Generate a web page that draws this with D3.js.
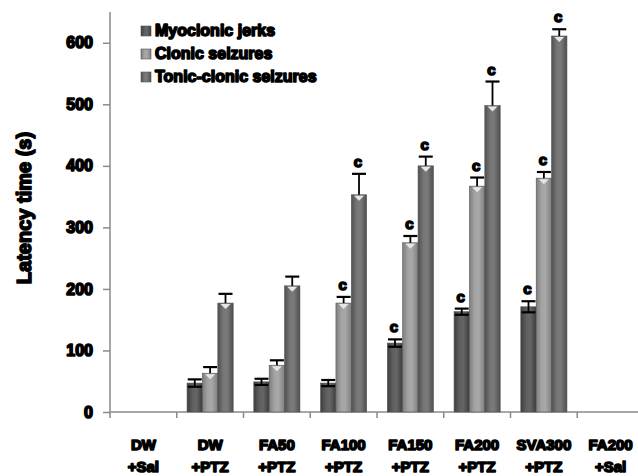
<!DOCTYPE html>
<html>
<head>
<meta charset="utf-8">
<script src="https://cdn.jsdelivr.net/npm/d3@7"></script>
<style>
  html, body { margin: 0; padding: 0; background: #fff; }
  svg { display: block; }
  .lbl { font-family: "Liberation Sans", Arial, sans-serif; font-weight: bold; fill: #000;
         stroke: #000; stroke-width: 1.6px; stroke-linejoin: round; paint-order: stroke; }
</style>
</head>
<body>
<svg id="chart" width="638" height="476"></svg>
<script>
// Groups on the x axis (two-line labels)
const categories = ["DW+Sal", "DW+PTZ", "FA50+PTZ", "FA100+PTZ", "FA150+PTZ", "FA200+PTZ", "SVA300+PTZ", "FA200+Sal"];
const categoryLines = [["DW", "+Sal"], ["DW", "+PTZ"], ["FA50", "+PTZ"], ["FA100", "+PTZ"], ["FA150", "+PTZ"], ["FA200", "+PTZ"], ["SVA300", "+PTZ"], ["FA200", "+Sal"]];
const seriesNames = ["Myoclonic jerks", "Clonic seizures", "Tonic-clonic seizures"];

// Mean latency (s) per group
const myoclonic = [0, 47, 49, 47, 112, 163, 171, 0];
const clonic    = [0, 63, 76, 177, 275, 367, 380, 0];
const tonic     = [0, 177, 205, 353, 400, 498, 611, 0];

// SEM per group
const myoclonicErr = [0, 6, 5, 5, 6, 5, 9, 0];
const clonicErr    = [0, 10, 8, 10, 11, 14, 10, 0];
const tonicErr     = [0, 15, 15, 34, 15, 39, 11, 0];

// Significance marks ("c") per group
const myoclonicSig = [false, false, false, false, true, true, true, false];
const clonicSig    = [false, false, false, true, true, true, true, false];
const tonicSig     = [false, false, false, true, true, true, true, false];

const yTicks = [0, 100, 200, 300, 400, 500, 600];

const series = [
  { name: seriesNames[0], values: myoclonic, err: myoclonicErr, sig: myoclonicSig, grad: "g0", both: true },
  { name: seriesNames[1], values: clonic, err: clonicErr, sig: clonicSig, grad: "g1", both: false },
  { name: seriesNames[2], values: tonic, err: tonicErr, sig: tonicSig, grad: "g2", both: false }
];

const svg = d3.select("#chart");
const defs = svg.append("defs");
const gradStops = {
  g0: ["#3e3e3e", "#5e5e5e", "#666", "#3c3c3c"],
  g1: ["#7e7e7e", "#a4a4a4", "#a8a8a8", "#808080"],
  g2: ["#505050", "#767676", "#7a7a7a", "#4e4e4e"]
};
Object.entries(gradStops).forEach(([id, cols]) => {
  const g = defs.append("linearGradient").attr("id", id).attr("x1", "0").attr("x2", "1").attr("y1", "0").attr("y2", "0");
  [0, 0.35, 0.6, 1].forEach((o, i) => g.append("stop").attr("offset", o).attr("stop-color", cols[i]));
});

const x0 = d3.scaleBand().domain(categories).range([110, 644]).padding(0);
const x1 = d3.scaleBand().domain(seriesNames).range([0, x0.bandwidth()]).paddingInner(0).paddingOuter(0.67);
const y = d3.scaleLinear().domain([0, 650]).range([412, 12]);

// Axes
const axisColor = "#8a8a8a";
svg.append("line").attr("x1", 110).attr("x2", 110).attr("y1", y(650)).attr("y2", y(0) + 6)
  .attr("stroke", axisColor).attr("stroke-width", 1.5);
svg.append("line").attr("x1", 110).attr("x2", 638).attr("y1", y(0)).attr("y2", y(0))
  .attr("stroke", axisColor).attr("stroke-width", 1.5);

const yAxis = svg.append("g").attr("transform", "translate(110,0)")
  .call(d3.axisLeft(y).tickValues(yTicks).tickSize(7).tickPadding(10));
yAxis.select(".domain").remove();
yAxis.selectAll(".tick line").attr("stroke", axisColor).attr("stroke-width", 1.5);
yAxis.selectAll(".tick text").attr("class", "lbl").style("font-size", "16px");

// Category boundary ticks
svg.append("g").selectAll("line").data(categories.slice(1).concat(["end"]))
  .join("line")
  .attr("x1", (d, i) => 110 + x0.step() * (i + 1))
  .attr("x2", (d, i) => 110 + x0.step() * (i + 1))
  .attr("y1", y(0)).attr("y2", y(0) + 6)
  .attr("stroke", axisColor).attr("stroke-width", 1.5);

// Category labels
const catG = svg.append("g").selectAll("text").data(categories).join("text")
  .attr("class", "lbl")
  .attr("text-anchor", "middle")
  .style("font-size", "15px")
  .attr("x", d => x0(d) + x0.bandwidth() / 2);
catG.each(function (d, i) {
  const t = d3.select(this);
  categoryLines[i].forEach((line, k) => {
    t.append("tspan").attr("x", x0(d) + x0.bandwidth() / 2).attr("y", 450 + k * 22).text(line);
  });
});

// Y axis title
svg.append("text").attr("class", "lbl")
  .attr("transform", "translate(31,208) rotate(-90)")
  .attr("text-anchor", "middle")
  .style("font-size", "20px")
  .text("Latency time (s)");

// Bars
const groups = svg.append("g").selectAll("g").data(categories).join("g")
  .attr("transform", d => `translate(${x0(d)},0)`);

series.forEach(s => {
  const bw = x1.bandwidth();
  groups.each(function (cat, i) {
    const v = s.values[i];
    if (v <= 0) return;
    const g = d3.select(this);
    const bx = x1(s.name);
    g.append("rect")
      .attr("x", bx).attr("y", y(v))
      .attr("width", bw).attr("height", y(0) - y(v))
      .attr("fill", `url(#${s.grad})`)
      .attr("stroke", "#555").attr("stroke-width", 0.6);
    const cx = bx + bw / 2;
    const e = s.err[i];
    const top = y(v + e);
    // highlight notch at the bar top
    if (!s.both) {
      g.append("path")
        .attr("d", `M${cx - 5},${y(v) + 1} L${cx + 5},${y(v) + 1} L${cx},${y(v) + 6} Z`)
        .attr("fill", "#e6e6e6");
    }
    const bottom = s.both ? y(v - e) : y(v);
    g.append("line").attr("x1", cx).attr("x2", cx).attr("y1", top).attr("y2", bottom)
      .attr("stroke", "#000").attr("stroke-width", 1.8);
    g.append("line").attr("x1", cx - 7).attr("x2", cx + 7).attr("y1", top).attr("y2", top)
      .attr("stroke", "#000").attr("stroke-width", 2.2);
    if (s.both) {
      g.append("line").attr("x1", cx - 7).attr("x2", cx + 7).attr("y1", bottom).attr("y2", bottom)
        .attr("stroke", "#000").attr("stroke-width", 2.2);
    }
    if (s.sig[i]) {
      g.append("text").attr("class", "lbl")
        .attr("x", cx - 1).attr("y", top - 7)
        .attr("text-anchor", "middle")
        .style("font-size", "15px")
        .text("c");
    }
  });
});

// Legend
const legend = svg.append("g").attr("transform", "translate(141,0)");
series.forEach((s, i) => {
  const cy = 31 + i * 23;
  legend.append("rect").attr("x", 0).attr("y", cy - 5).attr("width", 10).attr("height", 10)
    .attr("fill", `url(#${s.grad})`).attr("stroke", "#555").attr("stroke-width", 0.6);
  legend.append("text").attr("class", "lbl")
    .attr("x", 14).attr("y", cy + 5)
    .style("font-size", "16px")
    .text(s.name);
});
</script>
</body>
</html>
